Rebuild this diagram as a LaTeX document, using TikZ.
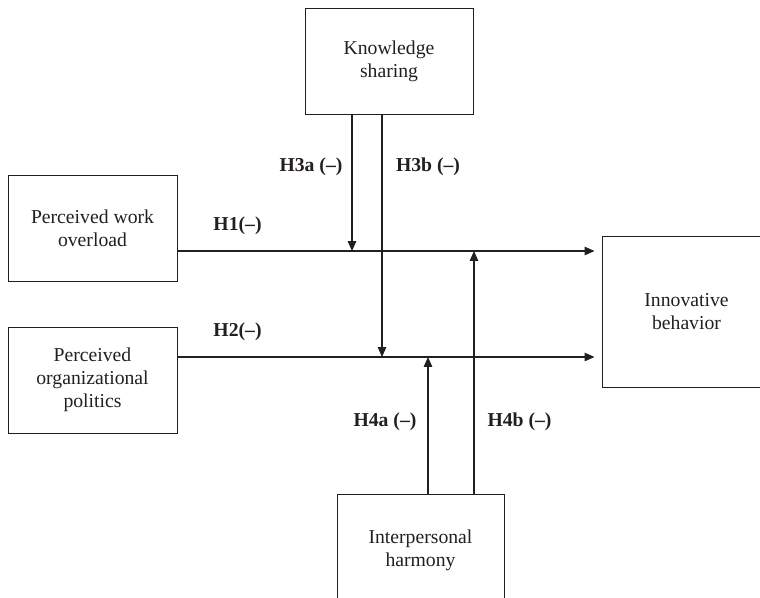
\documentclass[tikz,border=0pt]{standalone}
\usepackage{fontspec}
\setmainfont{Liberation Serif}
\usetikzlibrary{arrows.meta}
\definecolor{ink}{HTML}{231F20}

\begin{document}
\begin{tikzpicture}
[x=0.025cm, y=-0.025cm, draw=ink, text=ink, line width=0.8pt,
 font=\fontsize{14}{16.5}\selectfont,
 var/.style={rectangle, draw, line width=0.7pt, inner sep=0pt, align=center},
 hyp/.style={font=\fontsize{14}{16.5}\selectfont\bfseries, inner sep=0pt},
 path/.style={-{Triangle[length=7pt,width=6pt]}, line width=0.9pt}]

\useasboundingbox (0,0) rectangle (760,597);

\node[var, minimum width=168*0.025cm, minimum height=106*0.025cm] (ks) at (389,61) {Knowledge\\sharing};
\node[var, minimum width=169*0.025cm, minimum height=106*0.025cm] (pwo) at (92.5,228) {Perceived work\\overload};
\node[var, minimum width=169*0.025cm, minimum height=106*0.025cm] (pop) at (92.5,380) {Perceived\\organizational\\politics};
\node[var, minimum width=169*0.025cm, minimum height=151*0.025cm] (ib) at (686.5,311.5) {Innovative\\behavior};
\node[var, minimum width=167*0.025cm, minimum height=112*0.025cm] (ih) at (420.5,550) {Interpersonal\\harmony};

\coordinate (j3a) at (352,251);
\coordinate (j3b) at (382,357);
\coordinate (j4a) at (428,357);
\coordinate (j4b) at (474,251);

% main effects
\draw[path, shorten >=5pt] (pwo.east |- j3a) -- (ib.west |- j3a);
\draw[path, shorten >=5pt] (pop.east |- j3b) -- (ib.west |- j3b);

% moderators
\draw[path] (ks.south -| j3a) -- (j3a);
\draw[path] (ks.south -| j3b) -- (j3b);
\draw[path] (ih.north -| j4a) -- (j4a);
\draw[path] (ih.north -| j4b) -- (j4b);

\node[hyp] (h1) at (237.5,226) {H1(–)};
\node[hyp] (h2) at (237.5,332) {H2(–)};
\node[hyp] (h3a) at (311,167) {H3a (–)};
\node[hyp] (h3b) at (428,167) {H3b (–)};
\node[hyp] (h4a) at (385,422) {H4a (–)};
\node[hyp] (h4b) at (519.5,422) {H4b (–)};
\end{tikzpicture}
\end{document}
